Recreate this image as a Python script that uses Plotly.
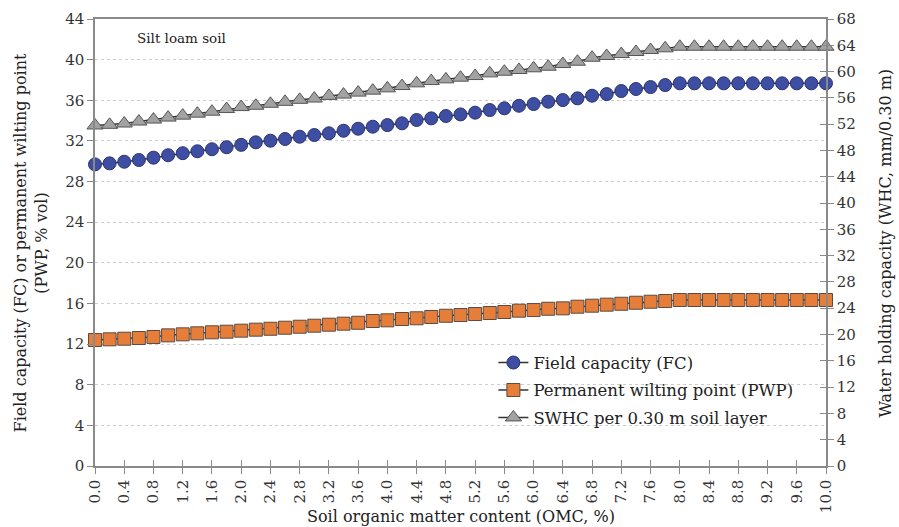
import plotly.graph_objects as go

# Soil organic matter content (OMC, %), 0.0 to 10.0 in steps of 0.2
omc = [round(i * 0.2, 1) for i in range(51)]

# Field capacity (% vol)
fc = [29.69, 29.79, 29.95, 30.12, 30.35, 30.59, 30.79, 30.98, 31.18, 31.38,
      31.61, 31.86, 32.02, 32.19, 32.41, 32.58, 32.75, 33.00, 33.20, 33.40,
      33.56, 33.73, 34.06, 34.22, 34.45, 34.61, 34.78, 35.04, 35.21, 35.46,
      35.63, 35.86, 36.02, 36.19, 36.45, 36.61, 36.91, 37.11, 37.30, 37.50,
      37.67, 37.67, 37.67, 37.67, 37.67, 37.67, 37.67, 37.67, 37.67, 37.67,
      37.67]

# Permanent wilting point (% vol)
pwp = [12.40, 12.47, 12.53, 12.60, 12.70, 12.86, 12.96, 13.06, 13.16, 13.22,
       13.32, 13.42, 13.51, 13.61, 13.71, 13.81, 13.91, 14.01, 14.10, 14.27,
       14.34, 14.47, 14.54, 14.67, 14.79, 14.86, 14.96, 15.06, 15.16, 15.29,
       15.35, 15.48, 15.52, 15.68, 15.78, 15.88, 15.97, 16.07, 16.17, 16.24,
       16.34, 16.34, 16.34, 16.34, 16.34, 16.34, 16.34, 16.34, 16.34, 16.34,
       16.34]

# Soil water holding capacity per 0.30 m layer (mm)
swhc = [51.8, 51.9, 52.1, 52.4, 52.7, 53.0, 53.3, 53.6, 53.9, 54.3,
        54.6, 54.8, 55.1, 55.4, 55.7, 55.9, 56.3, 56.5, 56.8, 57.1,
        57.45, 57.80, 58.21, 58.56, 58.82, 59.07, 59.32, 59.73, 59.98, 60.24,
        60.50, 60.74, 61.15, 61.50, 62.11, 62.37, 62.67, 62.98, 63.28, 63.54,
        63.78, 63.78, 63.78, 63.78, 63.78, 63.78, 63.78, 63.78, 63.78, 63.78,
        63.78]

x_ticks = [round(i * 0.4, 1) for i in range(26)]
x_tick_labels = [f"{v:.1f}" for v in x_ticks]
left_ticks = list(range(0, 45, 4))
right_ticks = list(range(0, 69, 4))

x_title = "Soil organic matter content (OMC, %)"
y_title = "Field capacity (FC) or permanent wilting point<br>(PWP, % vol)"
y2_title = "Water holding capacity (WHC, mm/0.30 m)"
note = "Silt loam soil"

FONT = "DejaVu Serif"
AXIS = "#8a8a8a"
LINE = "#333333"
TEXT = "#222222"

fig = go.Figure()
fig.add_trace(go.Scatter(
    x=omc, y=fc, name="Field capacity (FC)", mode="lines+markers",
    legendgroup="fc",
    line=dict(color=LINE, width=1.5),
    marker=dict(symbol="circle", size=13, color="#3d4ea3",
                line=dict(color="#2b3470", width=1)),
    cliponaxis=False))
fig.add_trace(go.Scatter(
    x=omc, y=pwp, name="Permanent wilting point (PWP)", mode="lines+markers",
    legendgroup="pwp",
    line=dict(color=LINE, width=1.5),
    marker=dict(symbol="square", size=13, color="#e67e3a",
                line=dict(color="#5a4a40", width=1)),
    cliponaxis=False))
fig.add_trace(go.Scatter(
    x=omc, y=swhc, name="SWHC per 0.30 m soil layer", mode="lines+markers",
    legendgroup="swhc", yaxis="y2",
    line=dict(color=LINE, width=1.5),
    marker=dict(symbol="triangle-up", size=14, color="#a2a2a2",
                line=dict(color="#555555", width=1)),
    cliponaxis=False))

# empty traces carrying the inward half of the crossing ticks
fig.add_trace(go.Scatter(x=[None], y=[None], xaxis="x2", yaxis="y", showlegend=False, hoverinfo="skip"))
fig.add_trace(go.Scatter(x=[None], y=[None], xaxis="x", yaxis="y3", showlegend=False, hoverinfo="skip"))

tickfont = dict(family=FONT, size=15, color="#333333")
titlefont = dict(family=FONT, size=16, color=TEXT)

fig.update_layout(
    width=899, height=527,
    margin=dict(l=95, r=73, t=19, b=61, autoexpand=False),
    paper_bgcolor="white", plot_bgcolor="white",
    font=dict(family=FONT, size=15, color="#333333"),
    showlegend=True,
    legend=dict(x=0.545, y=0.27, xanchor="left", yanchor="top",
                bgcolor="rgba(0,0,0,0)", font=dict(family=FONT, size=16.5, color=TEXT),
                traceorder="grouped", tracegroupgap=3, itemwidth=30),
    xaxis=dict(
        range=[0, 10], tickmode="array", tickvals=x_ticks, ticktext=x_tick_labels,
        tickangle=-90, ticks="outside", ticklen=6, tickcolor=AXIS,
        showline=True, linecolor=AXIS, linewidth=1.5, mirror=True,
        showgrid=False, zeroline=False, tickfont=tickfont, automargin=False),
    xaxis2=dict(
        range=[0, 10], overlaying="x", anchor="y", side="bottom",
        tickmode="array", tickvals=x_ticks, ticks="inside", ticklen=6,
        tickcolor=AXIS, showticklabels=False, showgrid=False, zeroline=False,
        showline=False, automargin=False),
    yaxis=dict(
        range=[0, 44], tickmode="array", tickvals=left_ticks,
        ticks="outside", ticklen=6, tickcolor=AXIS,
        showline=True, linecolor=AXIS, linewidth=1.5,
        showgrid=True, gridcolor="#cccccc", griddash="dot", gridwidth=1,
        zeroline=False, tickfont=tickfont, automargin=False),
    yaxis2=dict(
        range=[0, 68], overlaying="y", side="right", anchor="x",
        tickmode="array", tickvals=right_ticks,
        ticks="outside", ticklen=6, tickcolor=AXIS,
        showline=True, linecolor=AXIS, linewidth=1.5,
        showgrid=False, zeroline=False, tickfont=tickfont, automargin=False),
    yaxis3=dict(
        range=[0, 68], overlaying="y", side="right", anchor="x",
        tickmode="array", tickvals=right_ticks, ticks="inside", ticklen=6,
        tickcolor=AXIS, showticklabels=False, showgrid=False, zeroline=False,
        showline=False, automargin=False),
    annotations=[
        dict(text=note, x=0.055, y=0.957, xref="paper", yref="paper",
             xanchor="left", yanchor="middle", showarrow=False,
             font=dict(family=FONT, size=13.5, color=TEXT)),
        dict(text=x_title, x=0.5, y=-0.112, xref="paper", yref="paper",
             xanchor="center", yanchor="middle", showarrow=False, font=titlefont),
        dict(text=y_title, x=-0.0876, y=0.5, xref="paper", yref="paper",
             xanchor="center", yanchor="middle", showarrow=False, textangle=-90,
             font=titlefont),
        dict(text=y2_title, x=1.082, y=0.5, xref="paper", yref="paper",
             xanchor="center", yanchor="middle", showarrow=False, textangle=-90,
             font=titlefont),
    ],
)

fig.write_html("out.html")
